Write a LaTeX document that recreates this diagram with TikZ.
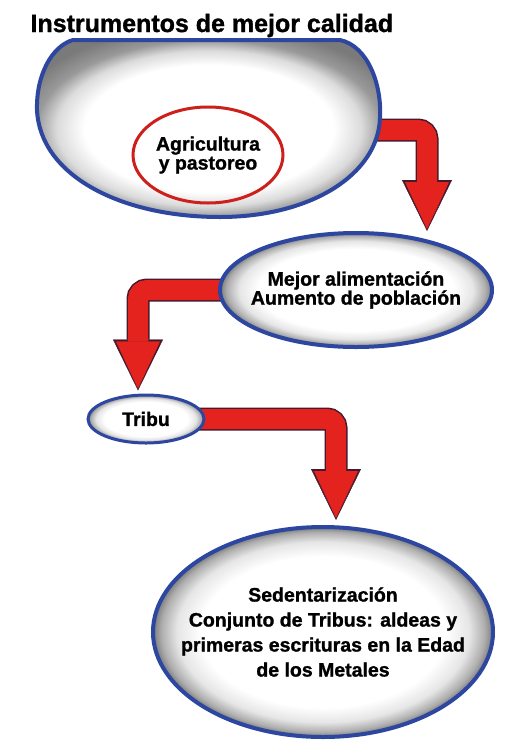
\documentclass[tikz,border=0pt]{standalone}
\usepackage{fontspec}
\setmainfont{Liberation Sans}[BoldFeatures={FakeBold=1.2}]
\usetikzlibrary{arrows.meta,calc,shapes.geometric,backgrounds}

\definecolor{azul}{RGB}{45,70,160}
\definecolor{rojo}{RGB}{228,35,30}
\definecolor{borde}{RGB}{70,25,45}
\pgfdeclareradialshading{brillo}{\pgfpoint{0bp}{0bp}}{color(0bp)=(white); color(18bp)=(white); color(21.5bp)=(black!10); color(23.8bp)=(black!32); color(25bp)=(black!52); color(50bp)=(black!52)}
\pgfdeclareradialshading{brillotop}{\pgfpoint{0bp}{0bp}}{color(0bp)=(white); color(18bp)=(white); color(22bp)=(black!14); color(25bp)=(black!40); color(29bp)=(black!52); color(50bp)=(black!55)}

\tikzset{
  texto/.style={font=\bfseries\fontsize{19.5}{19}\selectfont, align=center},
  globo/.style={texto, ellipse, draw=azul, line width=4pt, shading=brillo, inner xsep=-40pt, inner ysep=-6pt},
  flecha/.style={rojo, line width=20pt, rounded corners=9pt,
    -{Triangle[width=44pt,length=47pt,line width=0.4pt]},
    preaction={draw=borde, line width=23pt, shorten >=-2pt,
      -{Triangle[width=50pt,length=51pt,line width=0.4pt]}}}
}

\begin{document}
\begin{tikzpicture}[x=1pt, y=-1pt]
\useasboundingbox (0,0) rectangle (511,740);
% titulo
\node[anchor=base west, font=\bfseries\fontsize{25}{24}\selectfont] (titulo) at (27,32) {Instrumentos de mejor calidad};
% globo de arriba
\shadedraw[draw=azul, line width=4pt, shading=brillotop] (73,40) -- (340,40)
  .. controls (368,46) and (382,85) .. (380,118)
  .. controls (378,175) and (310,217) .. (220,217)
  .. controls (120,217) and (40,175) .. (37,110)
  .. controls (36,75) and (52,46) .. (73,40) -- cycle;
\coordinate (instr) at (360,130);
\node[texto, ellipse, draw=rojo!90!black, line width=3pt, inner sep=0pt, minimum width=150, minimum height=96] (agri) at (208,155) {Agricultura\\y pastoreo};
% globos
\node[globo, minimum width=272, minimum height=114] (alim) at (356,290) {Mejor alimentación\\Aumento de población};
\node[globo, line width=3pt, minimum width=116, minimum height=48] (tribu) at (146,419) {Tribu};
\node[globo, minimum width=340, minimum height=210, font=\bfseries\fontsize{19.5}{25}\selectfont] (sedent) at (323,632) {Sedentarización\\Conjunto de Tribus: aldeas y\\primeras escrituras en la Edad\\de los Metales};
% flechas
\begin{scope}[on background layer]
\draw[flecha] (instr) -| ($(alim.north)+(71,-2)$);
\draw[flecha] (alim.center) -| ($(tribu.north)+(-8,-5)$);
\draw[flecha] (tribu.center) -| ($(sedent.north)+(13,-7)$);
\end{scope}
\end{tikzpicture}
\end{document}
